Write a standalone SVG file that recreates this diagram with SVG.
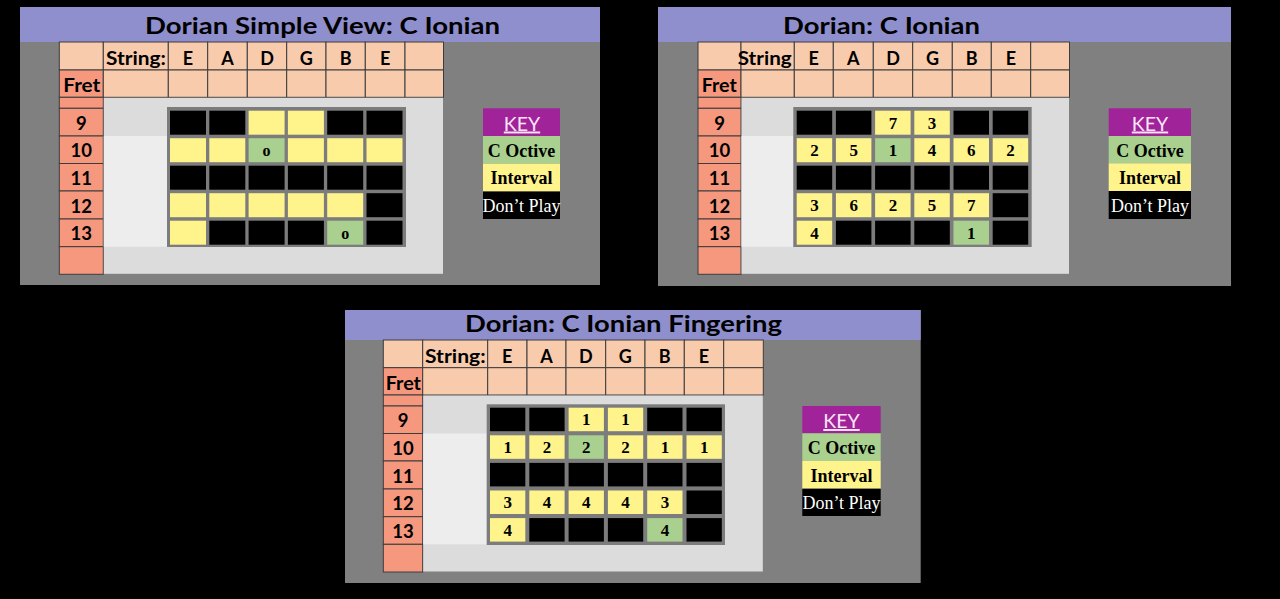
<svg xmlns="http://www.w3.org/2000/svg" width="1280" height="599" viewBox="0 0 1280 599">
<style>
.pbg{fill:#808080}
.band{fill:#8E8FCC}
.hc{fill:#F8CBAD;stroke:#3C3C3C;stroke-width:1}
.fc{fill:#F5987E;stroke:#3C3C3C;stroke-width:1}
.lg{fill:#DCDCDC}
.lg2{fill:#EDEDED}
.gb{fill:#7C7C7C}
.k{fill:#000000}
.y{fill:#FFF38C}
.g{fill:#A9D08E}
.kp{fill:#A1239A}
.ttl{font-family:Lato,"Liberation Sans",sans-serif;font-weight:bold;font-size:23px;fill:#000;text-anchor:middle}
.hd{font-family:Lato,"Liberation Sans",sans-serif;font-weight:bold;font-size:18px;fill:#000;text-anchor:middle}
.hs{font-family:Lato,"Liberation Sans",sans-serif;font-weight:bold;font-size:18px;fill:#000;text-anchor:end}
.hf{font-family:Lato,"Liberation Sans",sans-serif;font-weight:bold;font-size:18px;fill:#000}
.fn{font-family:Lato,"Liberation Sans",sans-serif;font-weight:bold;font-size:18.5px;fill:#000;text-anchor:middle}
.cn{font-family:"Liberation Serif",serif;font-weight:bold;font-size:17px;fill:#000;text-anchor:middle}
.co{font-family:"Liberation Serif",serif;font-weight:bold;font-size:16px;fill:#000;text-anchor:middle}
.kk{font-family:Lato,"Liberation Sans",sans-serif;font-size:19.5px;fill:#FCE6F8;text-anchor:middle;text-decoration:underline}
.kt{font-family:"Liberation Serif",serif;font-weight:bold;font-size:18px;fill:#000;text-anchor:middle}
.kd{font-family:"Liberation Serif",serif;font-size:18px;fill:#FFFFFF;text-anchor:middle}
</style>
<rect x="0" y="0" width="1280" height="599" fill="#000000"/>

<!-- ================= PANEL 1 ================= -->
<g id="panel1">
<rect class="pbg" x="20" y="7" width="580" height="278"/>
<rect class="band" x="20" y="7" width="580" height="35"/>
<text class="ttl" x="322.5" y="34.3" textLength="355" lengthAdjust="spacingAndGlyphs">Dorian Simple View: C Ionian</text>
<g id="p1-header">
<rect class="hc" x="59.3" y="42" width="44" height="28"/>
<rect class="hc" x="103.3" y="42" width="65" height="28"/>
<rect class="hc" x="168.3" y="42" width="39.4" height="28"/>
<rect class="hc" x="207.7" y="42" width="39.6" height="28"/>
<rect class="hc" x="247.3" y="42" width="39.4" height="28"/>
<rect class="hc" x="286.7" y="42" width="39.3" height="28"/>
<rect class="hc" x="326" y="42" width="39.3" height="28"/>
<rect class="hc" x="365.3" y="42" width="39.7" height="28"/>
<rect class="hc" x="405" y="42" width="38.5" height="28"/>
<rect class="fc" x="59.3" y="70" width="44" height="27.3"/>
<rect class="hc" x="103.3" y="70" width="65" height="27.3"/>
<rect class="hc" x="168.3" y="70" width="39.4" height="27.3"/>
<rect class="hc" x="207.7" y="70" width="39.6" height="27.3"/>
<rect class="hc" x="247.3" y="70" width="39.4" height="27.3"/>
<rect class="hc" x="286.7" y="70" width="39.3" height="27.3"/>
<rect class="hc" x="326" y="70" width="39.3" height="27.3"/>
<rect class="hc" x="365.3" y="70" width="39.7" height="27.3"/>
<rect class="hc" x="405" y="70" width="38.5" height="27.3"/>
<text class="hs" x="166" y="65" textLength="60" lengthAdjust="spacingAndGlyphs">String:</text>
<text class="hd" x="188" y="65">E</text>
<text class="hd" x="227.5" y="65">A</text>
<text class="hd" x="267" y="65">D</text>
<text class="hd" x="306.3" y="65">G</text>
<text class="hd" x="345.7" y="65">B</text>
<text class="hd" x="385.2" y="65">E</text>
<text class="hf" x="63.3" y="92.3" textLength="37" lengthAdjust="spacingAndGlyphs">Fret</text>
</g>
<g id="p1-frets">
<rect class="fc" x="59.3" y="97.3" width="44" height="11"/>
<rect class="fc" x="59.3" y="108.3" width="44" height="27.7"/>
<rect class="fc" x="59.3" y="136" width="44" height="27.5"/>
<rect class="fc" x="59.3" y="163.5" width="44" height="27.5"/>
<rect class="fc" x="59.3" y="191" width="44" height="28"/>
<rect class="fc" x="59.3" y="219" width="44" height="27.7"/>
<rect class="fc" x="59.3" y="246.7" width="44" height="27.6"/>
<text class="fn" x="81.3" y="129.7">9</text>
<text class="fn" x="81.3" y="157.2">10</text>
<text class="fn" x="81.3" y="184.7">11</text>
<text class="fn" x="81.3" y="212.5">12</text>
<text class="fn" x="81.3" y="240.3">13</text>
</g>
<g id="p1-board">
<rect class="lg" x="103.8" y="97.8" width="339.2" height="176"/>
<rect class="lg2" x="103.8" y="136" width="63.2" height="110.7"/>
<rect class="gb" x="167" y="107" width="239" height="140"/>
<rect class="k" x="170" y="110.7" width="36" height="24"/>
<rect class="k" x="209.3" y="110.7" width="36" height="24"/>
<rect class="y" x="248.6" y="110.7" width="36" height="24"/>
<rect class="y" x="287.9" y="110.7" width="36" height="24"/>
<rect class="k" x="327.2" y="110.7" width="36" height="24"/>
<rect class="k" x="366.5" y="110.7" width="36" height="24"/>
<rect class="y" x="170" y="138.2" width="36" height="24"/>
<rect class="y" x="209.3" y="138.2" width="36" height="24"/>
<rect class="g" x="248.6" y="138.2" width="36" height="24"/>
<rect class="y" x="287.9" y="138.2" width="36" height="24"/>
<rect class="y" x="327.2" y="138.2" width="36" height="24"/>
<rect class="y" x="366.5" y="138.2" width="36" height="24"/>
<rect class="k" x="170" y="165.7" width="36" height="24"/>
<rect class="k" x="209.3" y="165.7" width="36" height="24"/>
<rect class="k" x="248.6" y="165.7" width="36" height="24"/>
<rect class="k" x="287.9" y="165.7" width="36" height="24"/>
<rect class="k" x="327.2" y="165.7" width="36" height="24"/>
<rect class="k" x="366.5" y="165.7" width="36" height="24"/>
<rect class="y" x="170" y="193.2" width="36" height="24"/>
<rect class="y" x="209.3" y="193.2" width="36" height="24"/>
<rect class="y" x="248.6" y="193.2" width="36" height="24"/>
<rect class="y" x="287.9" y="193.2" width="36" height="24"/>
<rect class="y" x="327.2" y="193.2" width="36" height="24"/>
<rect class="k" x="366.5" y="193.2" width="36" height="24"/>
<rect class="y" x="170" y="220.7" width="36" height="24"/>
<rect class="k" x="209.3" y="220.7" width="36" height="24"/>
<rect class="k" x="248.6" y="220.7" width="36" height="24"/>
<rect class="k" x="287.9" y="220.7" width="36" height="24"/>
<rect class="g" x="327.2" y="220.7" width="36" height="24"/>
<rect class="k" x="366.5" y="220.7" width="36" height="24"/>
<text class="co" x="266.6" y="156">o</text>
<text class="co" x="345.2" y="238.5">o</text>
</g>
<g id="p1-key">
<rect class="kp" x="483" y="108.3" width="77" height="27.7"/>
<rect class="g" x="483" y="136" width="77" height="27.7"/>
<rect class="y" x="483" y="163.7" width="77" height="27.8"/>
<rect class="k" x="483" y="191.5" width="77" height="27.5"/>
<text class="kk" x="522" y="130.5">KEY</text>
<text class="kt" x="521.5" y="156.7">C Octive</text>
<text class="kt" x="521.5" y="184.3">Interval</text>
<text class="kd" x="521.5" y="211.7">Don’t Play</text>
</g>
</g>

<!-- ================= PANEL 2 ================= -->
<g id="panel2">
<rect class="pbg" x="658" y="7" width="573" height="279"/>
<rect class="band" x="658" y="7" width="573" height="35"/>
<text class="ttl" x="881.5" y="34.3" textLength="197" lengthAdjust="spacingAndGlyphs">Dorian: C Ionian</text>
<g id="p2-header">
<rect class="hc" x="698" y="42" width="43" height="28"/>
<rect class="hc" x="741" y="42" width="53.3" height="28"/>
<rect class="hc" x="794.3" y="42" width="39" height="28"/>
<rect class="hc" x="833.3" y="42" width="40" height="28"/>
<rect class="hc" x="873.3" y="42" width="39.4" height="28"/>
<rect class="hc" x="912.7" y="42" width="39.6" height="28"/>
<rect class="hc" x="952.3" y="42" width="39" height="28"/>
<rect class="hc" x="991.3" y="42" width="39.4" height="28"/>
<rect class="hc" x="1030.7" y="42" width="38.8" height="28"/>
<rect class="fc" x="698" y="70" width="43" height="27.3"/>
<rect class="hc" x="741" y="70" width="53.3" height="27.3"/>
<rect class="hc" x="794.3" y="70" width="39" height="27.3"/>
<rect class="hc" x="833.3" y="70" width="40" height="27.3"/>
<rect class="hc" x="873.3" y="70" width="39.4" height="27.3"/>
<rect class="hc" x="912.7" y="70" width="39.6" height="27.3"/>
<rect class="hc" x="952.3" y="70" width="39" height="27.3"/>
<rect class="hc" x="991.3" y="70" width="39.4" height="27.3"/>
<rect class="hc" x="1030.7" y="70" width="38.8" height="27.3"/>
<text class="hs" x="791.7" y="65" textLength="54" lengthAdjust="spacingAndGlyphs">String</text>
<text class="hd" x="813.8" y="65">E</text>
<text class="hd" x="853.3" y="65">A</text>
<text class="hd" x="893" y="65">D</text>
<text class="hd" x="932.5" y="65">G</text>
<text class="hd" x="971.8" y="65">B</text>
<text class="hd" x="1011" y="65">E</text>
<text class="hf" x="701.7" y="92.3" textLength="35" lengthAdjust="spacingAndGlyphs">Fret</text>
</g>
<g id="p2-frets">
<rect class="fc" x="698" y="97.3" width="43" height="11"/>
<rect class="fc" x="698" y="108.3" width="43" height="27.7"/>
<rect class="fc" x="698" y="136" width="43" height="27.5"/>
<rect class="fc" x="698" y="163.5" width="43" height="27.5"/>
<rect class="fc" x="698" y="191" width="43" height="28"/>
<rect class="fc" x="698" y="219" width="43" height="27.7"/>
<rect class="fc" x="698" y="246.7" width="43" height="27.6"/>
<text class="fn" x="719.5" y="129.7">9</text>
<text class="fn" x="719.5" y="157.2">10</text>
<text class="fn" x="719.5" y="184.7">11</text>
<text class="fn" x="719.5" y="212.5">12</text>
<text class="fn" x="719.5" y="240.3">13</text>
</g>
<g id="p2-board">
<rect class="lg" x="741.5" y="97.8" width="327.5" height="176"/>
<rect class="lg2" x="741.5" y="136" width="51.8" height="110.7"/>
<rect class="gb" x="793.3" y="107" width="238.4" height="140"/>
<rect class="k" x="796.7" y="110.7" width="35.5" height="24"/>
<rect class="k" x="835.9" y="110.7" width="35.5" height="24"/>
<rect class="y" x="875.1" y="110.7" width="35.5" height="24"/>
<rect class="y" x="914.3" y="110.7" width="35.5" height="24"/>
<rect class="k" x="953.5" y="110.7" width="35.5" height="24"/>
<rect class="k" x="992.7" y="110.7" width="35.5" height="24"/>
<rect class="y" x="796.7" y="138.2" width="35.5" height="24"/>
<rect class="y" x="835.9" y="138.2" width="35.5" height="24"/>
<rect class="g" x="875.1" y="138.2" width="35.5" height="24"/>
<rect class="y" x="914.3" y="138.2" width="35.5" height="24"/>
<rect class="y" x="953.5" y="138.2" width="35.5" height="24"/>
<rect class="y" x="992.7" y="138.2" width="35.5" height="24"/>
<rect class="k" x="796.7" y="165.7" width="35.5" height="24"/>
<rect class="k" x="835.9" y="165.7" width="35.5" height="24"/>
<rect class="k" x="875.1" y="165.7" width="35.5" height="24"/>
<rect class="k" x="914.3" y="165.7" width="35.5" height="24"/>
<rect class="k" x="953.5" y="165.7" width="35.5" height="24"/>
<rect class="k" x="992.7" y="165.7" width="35.5" height="24"/>
<rect class="y" x="796.7" y="193.2" width="35.5" height="24"/>
<rect class="y" x="835.9" y="193.2" width="35.5" height="24"/>
<rect class="y" x="875.1" y="193.2" width="35.5" height="24"/>
<rect class="y" x="914.3" y="193.2" width="35.5" height="24"/>
<rect class="y" x="953.5" y="193.2" width="35.5" height="24"/>
<rect class="k" x="992.7" y="193.2" width="35.5" height="24"/>
<rect class="y" x="796.7" y="220.7" width="35.5" height="24"/>
<rect class="k" x="835.9" y="220.7" width="35.5" height="24"/>
<rect class="k" x="875.1" y="220.7" width="35.5" height="24"/>
<rect class="k" x="914.3" y="220.7" width="35.5" height="24"/>
<rect class="g" x="953.5" y="220.7" width="35.5" height="24"/>
<rect class="k" x="992.7" y="220.7" width="35.5" height="24"/>
<text class="cn" x="892.9" y="128.5">7</text>
<text class="cn" x="932.1" y="128.5">3</text>
<text class="cn" x="814.5" y="156">2</text>
<text class="cn" x="853.7" y="156">5</text>
<text class="cn" x="892.9" y="156">1</text>
<text class="cn" x="932.1" y="156">4</text>
<text class="cn" x="971.3" y="156">6</text>
<text class="cn" x="1010.5" y="156">2</text>
<text class="cn" x="814.5" y="211">3</text>
<text class="cn" x="853.7" y="211">6</text>
<text class="cn" x="892.9" y="211">2</text>
<text class="cn" x="932.1" y="211">5</text>
<text class="cn" x="971.3" y="211">7</text>
<text class="cn" x="814.5" y="238.5">4</text>
<text class="cn" x="971.3" y="238.5">1</text>
</g>
<g id="p2-key">
<rect class="kp" x="1108.7" y="108.3" width="82.3" height="27.7"/>
<rect class="g" x="1108.7" y="136" width="82.3" height="27.3"/>
<rect class="y" x="1108.7" y="163.3" width="82.3" height="27.7"/>
<rect class="k" x="1108.7" y="191" width="82.3" height="28"/>
<text class="kk" x="1150" y="130.5">KEY</text>
<text class="kt" x="1150" y="156.5">C Octive</text>
<text class="kt" x="1150" y="184">Interval</text>
<text class="kd" x="1150" y="211.5">Don’t Play</text>
</g>
</g>

<!-- ================= PANEL 3 ================= -->
<g id="panel3">
<rect class="pbg" x="345" y="310" width="575.7" height="273"/>
<rect class="band" x="345" y="310" width="575.7" height="30"/>
<text class="ttl" x="623.5" y="331.7" textLength="317" lengthAdjust="spacingAndGlyphs">Dorian: C Ionian Fingering</text>
<g id="p3-header">
<rect class="hc" x="383.3" y="340" width="39.4" height="27.7"/>
<rect class="hc" x="422.7" y="340" width="65" height="27.7"/>
<rect class="hc" x="487.7" y="340" width="39.3" height="27.7"/>
<rect class="hc" x="527" y="340" width="39" height="27.7"/>
<rect class="hc" x="566" y="340" width="39.7" height="27.7"/>
<rect class="hc" x="605.7" y="340" width="39.3" height="27.7"/>
<rect class="hc" x="645" y="340" width="39.3" height="27.7"/>
<rect class="hc" x="684.3" y="340" width="39.4" height="27.7"/>
<rect class="hc" x="723.7" y="340" width="39.6" height="27.7"/>
<rect class="fc" x="383.3" y="367.7" width="39.4" height="27.3"/>
<rect class="hc" x="422.7" y="367.7" width="65" height="27.3"/>
<rect class="hc" x="487.7" y="367.7" width="39.3" height="27.3"/>
<rect class="hc" x="527" y="367.7" width="39" height="27.3"/>
<rect class="hc" x="566" y="367.7" width="39.7" height="27.3"/>
<rect class="hc" x="605.7" y="367.7" width="39.3" height="27.3"/>
<rect class="hc" x="645" y="367.7" width="39.3" height="27.3"/>
<rect class="hc" x="684.3" y="367.7" width="39.4" height="27.3"/>
<rect class="hc" x="723.7" y="367.7" width="39.6" height="27.3"/>
<text class="hs" x="485.7" y="362.5" textLength="60.7" lengthAdjust="spacingAndGlyphs">String:</text>
<text class="hd" x="507.3" y="362.5">E</text>
<text class="hd" x="546.5" y="362.5">A</text>
<text class="hd" x="585.8" y="362.5">D</text>
<text class="hd" x="625.3" y="362.5">G</text>
<text class="hd" x="664.6" y="362.5">B</text>
<text class="hd" x="704" y="362.5">E</text>
<text class="hf" x="385.7" y="390" textLength="35.3" lengthAdjust="spacingAndGlyphs">Fret</text>
</g>
<g id="p3-frets">
<rect class="fc" x="383.3" y="395" width="39.4" height="11"/>
<rect class="fc" x="383.3" y="406" width="39.4" height="27.5"/>
<rect class="fc" x="383.3" y="433.5" width="39.4" height="27.5"/>
<rect class="fc" x="383.3" y="461" width="39.4" height="28"/>
<rect class="fc" x="383.3" y="489" width="39.4" height="27.7"/>
<rect class="fc" x="383.3" y="516.7" width="39.4" height="27.6"/>
<rect class="fc" x="383.3" y="544.3" width="39.4" height="27.7"/>
<text class="fn" x="403" y="427.3">9</text>
<text class="fn" x="403" y="454.8">10</text>
<text class="fn" x="403" y="482.5">11</text>
<text class="fn" x="403" y="510.3">12</text>
<text class="fn" x="403" y="538">13</text>
</g>
<g id="p3-board">
<rect class="lg" x="423.2" y="395.5" width="339.6" height="176"/>
<rect class="lg2" x="423.2" y="433.5" width="63.5" height="110.8"/>
<rect class="gb" x="486.7" y="404.3" width="238.3" height="140.7"/>
<rect class="k" x="490" y="407.7" width="35.3" height="23.5"/>
<rect class="k" x="529.3" y="407.7" width="35.3" height="23.5"/>
<rect class="y" x="568.6" y="407.7" width="35.3" height="23.5"/>
<rect class="y" x="607.9" y="407.7" width="35.3" height="23.5"/>
<rect class="k" x="647.2" y="407.7" width="35.3" height="23.5"/>
<rect class="k" x="686.5" y="407.7" width="35.3" height="23.5"/>
<rect class="y" x="490" y="435.3" width="35.3" height="23.5"/>
<rect class="y" x="529.3" y="435.3" width="35.3" height="23.5"/>
<rect class="g" x="568.6" y="435.3" width="35.3" height="23.5"/>
<rect class="y" x="607.9" y="435.3" width="35.3" height="23.5"/>
<rect class="y" x="647.2" y="435.3" width="35.3" height="23.5"/>
<rect class="y" x="686.5" y="435.3" width="35.3" height="23.5"/>
<rect class="k" x="490" y="462.9" width="35.3" height="23.5"/>
<rect class="k" x="529.3" y="462.9" width="35.3" height="23.5"/>
<rect class="k" x="568.6" y="462.9" width="35.3" height="23.5"/>
<rect class="k" x="607.9" y="462.9" width="35.3" height="23.5"/>
<rect class="k" x="647.2" y="462.9" width="35.3" height="23.5"/>
<rect class="k" x="686.5" y="462.9" width="35.3" height="23.5"/>
<rect class="y" x="490" y="490.5" width="35.3" height="23.5"/>
<rect class="y" x="529.3" y="490.5" width="35.3" height="23.5"/>
<rect class="y" x="568.6" y="490.5" width="35.3" height="23.5"/>
<rect class="y" x="607.9" y="490.5" width="35.3" height="23.5"/>
<rect class="y" x="647.2" y="490.5" width="35.3" height="23.5"/>
<rect class="k" x="686.5" y="490.5" width="35.3" height="23.5"/>
<rect class="y" x="490" y="518.1" width="35.3" height="23.5"/>
<rect class="k" x="529.3" y="518.1" width="35.3" height="23.5"/>
<rect class="k" x="568.6" y="518.1" width="35.3" height="23.5"/>
<rect class="k" x="607.9" y="518.1" width="35.3" height="23.5"/>
<rect class="g" x="647.2" y="518.1" width="35.3" height="23.5"/>
<rect class="k" x="686.5" y="518.1" width="35.3" height="23.5"/>
<text class="cn" x="586.3" y="425.2">1</text>
<text class="cn" x="625.6" y="425.2">1</text>
<text class="cn" x="507.7" y="452.8">1</text>
<text class="cn" x="547" y="452.8">2</text>
<text class="cn" x="586.3" y="452.8">2</text>
<text class="cn" x="625.6" y="452.8">2</text>
<text class="cn" x="664.9" y="452.8">1</text>
<text class="cn" x="704.2" y="452.8">1</text>
<text class="cn" x="507.7" y="508">3</text>
<text class="cn" x="547" y="508">4</text>
<text class="cn" x="586.3" y="508">4</text>
<text class="cn" x="625.6" y="508">4</text>
<text class="cn" x="664.9" y="508">3</text>
<text class="cn" x="507.7" y="535.6">4</text>
<text class="cn" x="664.9" y="535.6">4</text>
</g>
<g id="p3-key">
<rect class="kp" x="802.3" y="406" width="78.4" height="27.3"/>
<rect class="g" x="802.3" y="433.3" width="78.4" height="27.7"/>
<rect class="y" x="802.3" y="461" width="78.4" height="27.7"/>
<rect class="k" x="802.3" y="488.7" width="78.4" height="27.3"/>
<text class="kk" x="841.5" y="428">KEY</text>
<text class="kt" x="841.5" y="454">C Octive</text>
<text class="kt" x="841.5" y="481.5">Interval</text>
<text class="kd" x="841.5" y="509">Don’t Play</text>
</g>
</g>
</svg>
